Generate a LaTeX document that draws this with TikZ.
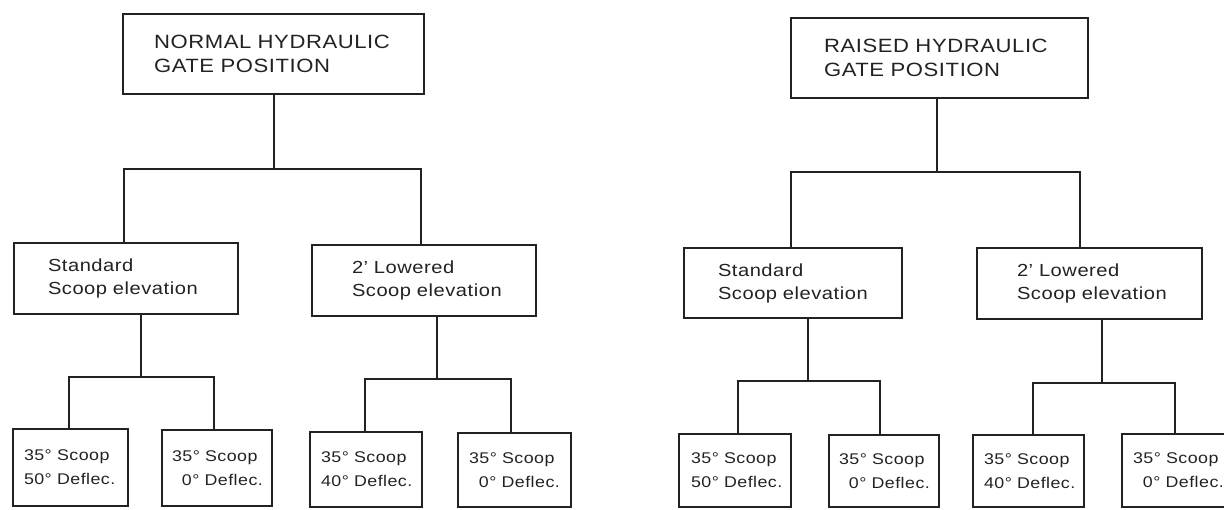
\documentclass[tikz,border=0pt]{standalone}
\usepackage{fontspec}
\setmainfont{Liberation Sans}[FakeStretch=1.15, LetterSpace=3, WordSpace=1.15]
\usetikzlibrary{calc}
\definecolor{ink}{HTML}{222222}
\hyphenpenalty=10000
\exhyphenpenalty=10000
\hbadness=10000
\hfuzz=100pt
\tikzset{
  bx/.style={draw=ink, line width=2pt, rectangle, anchor=north west, align=left, inner ysep=0pt, text=ink},
  topbox/.style={bx, font=\fontsize{19.2}{24}\selectfont},
  midbox/.style={bx, font=\fontsize{17.5}{23}\selectfont},
  leafbox/.style={bx, font=\fontsize{15.5}{24}\selectfont},
  wire/.style={draw=ink, line width=2pt},
}
\begin{document}
\begin{tikzpicture}[x=1pt,y=-1pt]
\useasboundingbox (0,0) rectangle (1224,509);
\clip (0,0) rectangle (1224,509);
% ---------- left tree ----------
\node[topbox, minimum width=301pt, minimum height=80pt, inner xsep=31pt, text width=239pt] (T1) at (122,13) {NORMAL~HYDRAULIC\\GATE~POSITION};
\node[midbox, minimum width=224pt, minimum height=71pt, inner xsep=34pt, text width=156pt] (S1) at (13,242) {Standard\\Scoop~elevation};
\node[midbox, minimum width=224pt, minimum height=71pt, inner xsep=40pt, text width=144pt] (L1) at (311,244) {2’~Lowered\\Scoop~elevation};
\node[leafbox, minimum width=115pt, minimum height=77pt, inner xsep=11pt, text width=93pt] (A1) at (12,428) {35°~Scoop\\50°~Deflec.};
\node[leafbox, minimum width=110pt, minimum height=76pt, inner xsep=10pt, text width=90pt] (A2) at (161,429) {35°~Scoop\\\phantom{3}0°~Deflec.};
\node[leafbox, minimum width=112pt, minimum height=75pt, inner xsep=11pt, text width=90pt] (A3) at (309,431) {35°~Scoop\\40°~Deflec.};
\node[leafbox, minimum width=113pt, minimum height=74pt, inner xsep=11pt, text width=91pt] (A4) at (457,432) {35°~Scoop\\\phantom{3}0°~Deflec.};
\coordinate (j1) at (274,169);
\coordinate (jS1) at (141,377);
\coordinate (jL1) at (437,379);
\draw[wire] (T1.south -| j1) -- (j1);
\draw[wire] ([xshift=-2pt]S1.north) |- (j1) -| ([xshift=-3pt]L1.north);
\draw[wire] (S1.south -| jS1) -- (jS1);
\draw[wire] ([xshift=-1.5pt]A1.north) |- (jS1) -| ([xshift=-3pt]A2.north);
\draw[wire] (L1.south -| jL1) -- (jL1);
\draw[wire] ([xshift=-1pt]A3.north) |- (jL1) -| ([xshift=-3.5pt]A4.north);
% ---------- right tree ----------
\node[topbox, minimum width=297pt, minimum height=80pt, inner xsep=33pt, text width=231pt] (T2) at (790,17) {RAISED~HYDRAULIC\\GATE~POSITION};
\node[midbox, minimum width=218pt, minimum height=70pt, inner xsep=34pt, text width=150pt] (S2) at (683,247) {Standard\\Scoop~elevation};
\node[midbox, minimum width=225pt, minimum height=71pt, inner xsep=40pt, text width=145pt] (L2) at (976,247) {2’~Lowered\\Scoop~elevation};
\node[leafbox, minimum width=112pt, minimum height=73pt, inner xsep=12pt, text width=88pt] (B1) at (678,433) {35°~Scoop\\50°~Deflec.};
\node[leafbox, minimum width=110pt, minimum height=72pt, inner xsep=10pt, text width=90pt] (B2) at (828,434) {35°~Scoop\\\phantom{3}0°~Deflec.};
\node[leafbox, minimum width=111pt, minimum height=72pt, inner xsep=11pt, text width=89pt] (B3) at (972,434) {35°~Scoop\\40°~Deflec.};
\node[leafbox, minimum width=112pt, minimum height=73pt, inner xsep=11pt, text width=90pt] (B4) at (1121,433) {35°~Scoop\\\phantom{3}0°~Deflec.};
\coordinate (j2) at (937,172);
\coordinate (jS2) at (808,381);
\coordinate (jL2) at (1102,383);
\draw[wire] (T2.south -| j2) -- (j2);
\draw[wire] ([xshift=-2pt]S2.north) |- (j2) -| ([xshift=-9.5pt]L2.north);
\draw[wire] (S2.south -| jS2) -- (jS2);
\draw[wire] ([xshift=3pt]B1.north) |- (jS2) -| ([xshift=-4pt]B2.north);
\draw[wire] (L2.south -| jL2) -- (jL2);
\draw[wire] ([xshift=4.5pt]B3.north) |- (jL2) -| ([xshift=-3pt]B4.north);
\end{tikzpicture}
\end{document}
